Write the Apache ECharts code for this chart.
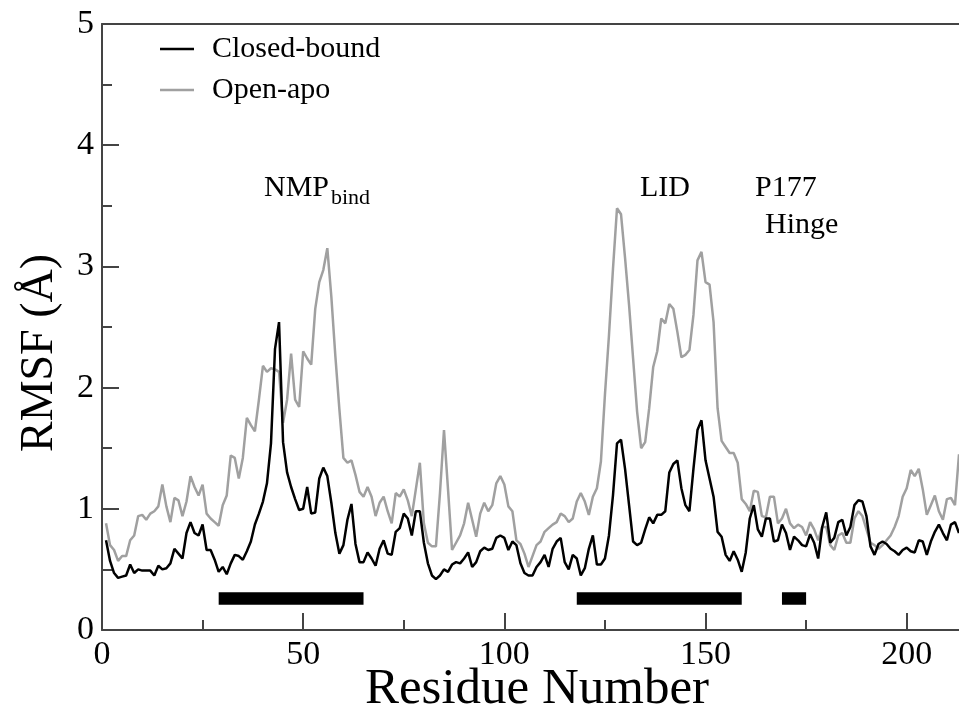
<!DOCTYPE html>
<html>
<head>
<meta charset="utf-8">
<script src="https://cdn.jsdelivr.net/npm/echarts@6/dist/echarts.min.js"></script>
<style>html,body{margin:0;padding:0;background:#fff;}#c{width:959px;height:712px;}</style>
</head>
<body>
<div id="c"></div>
<script>
// RMSF values (Å) per residue, starting at residue 1
const closedBound = [
0.74,0.57,0.47,0.43,0.44,0.45,0.54,0.47,0.50,0.49,
0.49,0.49,0.45,0.53,0.50,0.51,0.55,0.67,0.63,0.59,
0.80,0.89,0.80,0.78,0.87,0.66,0.66,0.58,0.48,0.52,
0.46,0.55,0.62,0.61,0.58,0.65,0.73,0.87,0.96,1.06,
1.21,1.54,2.32,2.54,1.55,1.30,1.18,1.08,0.99,1.00,
1.18,0.96,0.97,1.25,1.34,1.27,1.05,0.80,0.63,0.70,
0.91,1.04,0.71,0.56,0.56,0.64,0.59,0.53,0.67,0.74,
0.63,0.62,0.81,0.84,0.96,0.92,0.78,0.98,0.98,0.72,
0.55,0.45,0.42,0.45,0.50,0.48,0.54,0.56,0.55,0.59,
0.64,0.52,0.56,0.65,0.68,0.66,0.67,0.76,0.78,0.76,
0.66,0.73,0.70,0.55,0.47,0.45,0.45,0.52,0.56,0.62,
0.52,0.67,0.73,0.76,0.56,0.50,0.62,0.59,0.45,0.51,
0.67,0.78,0.54,0.54,0.59,0.78,1.11,1.54,1.57,1.33,
1.03,0.73,0.70,0.72,0.83,0.93,0.88,0.95,0.95,0.98,
1.30,1.37,1.40,1.17,1.03,0.98,1.33,1.65,1.73,1.40,
1.25,1.10,0.81,0.77,0.62,0.57,0.65,0.58,0.48,0.64,
0.92,1.03,0.83,0.77,0.92,0.92,0.73,0.74,0.87,0.80,
0.66,0.77,0.74,0.70,0.69,0.79,0.72,0.59,0.85,0.97,
0.72,0.76,0.89,0.91,0.78,0.85,1.03,1.07,1.06,0.94,
0.69,0.62,0.71,0.73,0.71,0.67,0.65,0.62,0.66,0.68,
0.65,0.64,0.74,0.73,0.62,0.73,0.81,0.87,0.80,0.74,
0.87,0.89,0.80
];
const openApo = [
0.88,0.70,0.66,0.57,0.61,0.61,0.74,0.78,0.94,0.95,
0.91,0.96,0.98,1.02,1.20,1.02,0.89,1.09,1.07,0.94,
1.06,1.27,1.18,1.11,1.20,0.96,0.92,0.89,0.86,1.03,
1.11,1.44,1.42,1.25,1.42,1.75,1.69,1.64,1.90,2.18,
2.13,2.16,2.15,2.13,1.71,1.90,2.28,1.90,1.84,2.30,
2.24,2.19,2.65,2.87,2.97,3.15,2.75,2.26,1.82,1.42,
1.38,1.40,1.28,1.14,1.10,1.18,1.10,0.94,1.05,1.10,
0.98,0.88,1.13,1.10,1.16,1.07,0.94,1.16,1.38,0.88,
0.72,0.69,0.69,1.13,1.65,1.16,0.66,0.72,0.78,0.88,
1.05,0.91,0.77,0.96,1.05,0.98,1.03,1.21,1.27,1.20,
1.02,0.98,0.74,0.71,0.63,0.52,0.61,0.70,0.73,0.81,
0.84,0.87,0.89,0.96,0.94,0.89,0.92,1.06,1.13,1.06,
0.95,1.10,1.17,1.39,1.94,2.43,2.98,3.48,3.43,3.07,
2.68,2.24,1.80,1.50,1.55,1.83,2.17,2.30,2.57,2.53,
2.69,2.65,2.46,2.25,2.27,2.31,2.60,3.05,3.12,2.87,
2.85,2.54,1.83,1.56,1.51,1.46,1.46,1.38,1.08,1.04,
0.98,1.15,1.14,0.94,0.93,1.10,1.10,0.88,0.92,1.00,
0.88,0.84,0.87,0.85,0.78,0.89,0.83,0.74,0.85,0.85,
0.70,0.66,0.78,0.80,0.72,0.72,0.92,0.98,0.94,0.83,
0.72,0.70,0.67,0.70,0.74,0.78,0.85,0.94,1.10,1.17,
1.32,1.27,1.33,1.16,0.95,1.03,1.11,0.98,0.91,1.08,
1.09,1.03,1.45
];
// domain bars: [startResidue, endResidue]
const domainSegments = [[29,65],[118,159],[169,175]];
const domainLevel = 0.26;
const xMajorTicks = [0,50,100,150,200];
const xMinorTicks = [25,75,125,175];
const yTicks = [0,1,2,3,4,5];

const FONT = 'Liberation Serif';
const toPairs = arr => arr.map((v, i) => [i + 1, v]);
const X_MAX = 213;

const chart = echarts.init(document.getElementById('c'), null, {renderer: 'canvas'});
const axisColor = '#444';

const segSeries = domainSegments.map((s, k) => ({
  name: 'domain' + k,
  type: 'line',
  data: [[s[0], domainLevel], [s[1], domainLevel]],
  symbol: 'none',
  silent: true,
  lineStyle: {color: '#000', width: 12.5, cap: 'butt'},
  z: 4
}));

chart.setOption({
  animation: false,
  backgroundColor: '#fff',
  grid: {left: 102, top: 24, bottom: 82, right: 0, containLabel: false, outerBoundsMode: 'none'},
  legend: {
    data: [{name: 'Closed-bound', icon: 'rect'}, {name: 'Open-apo', icon: 'rect'}],
    orient: 'vertical',
    left: 155, top: 29,
    itemWidth: 34, itemHeight: 2.5, itemGap: 11,
    textStyle: {fontFamily: FONT, fontSize: 30, color: '#000', lineHeight: 30, padding: [0,0,0,13]},
    selectedMode: false
  },
  xAxis: [{
    type: 'value', min: 0, max: X_MAX, position: 'bottom',
    axisLine: {show: true, onZero: false, lineStyle: {color: axisColor, width: 2}},
    axisTick: {show: true, inside: true, length: 17, customValues: xMajorTicks, lineStyle: {color: axisColor, width: 2}},
    axisLabel: {fontFamily: FONT, fontSize: 34, color: '#000', margin: 8, customValues: xMajorTicks},
    splitLine: {show: false}
  }, {
    type: 'value', min: 0, max: X_MAX, position: 'bottom',
    axisLine: {show: false, onZero: false},
    axisTick: {show: true, inside: true, length: 10, customValues: xMinorTicks, lineStyle: {color: axisColor, width: 2}},
    axisLabel: {show: false}, splitLine: {show: false}
  }, {
    type: 'value', min: 0, max: X_MAX, position: 'top',
    axisLine: {show: true, onZero: false, lineStyle: {color: axisColor, width: 2}},
    axisTick: {show: false}, axisLabel: {show: false}, splitLine: {show: false}
  }],
  yAxis: {
    type: 'value', min: 0, max: 5, interval: 1,
    axisLine: {show: true, onZero: false, lineStyle: {color: axisColor, width: 2}},
    axisTick: {show: true, inside: true, length: 17, lineStyle: {color: axisColor, width: 2}},
    minorTick: {show: true, splitNumber: 2, length: 10, lineStyle: {color: axisColor, width: 2}},
    axisLabel: {fontFamily: FONT, fontSize: 34, color: '#000', margin: 8,
      formatter: v => (yTicks.indexOf(v) >= 0 ? String(v) : '')},
    splitLine: {show: false}
  },
  series: [{
    name: 'Open-apo', type: 'line', data: toPairs(openApo),
    symbol: 'none', showSymbol: false, clip: true,
    lineStyle: {color: '#a0a0a0', width: 2.5}, itemStyle: {color: '#a0a0a0'}, z: 2
  }, {
    name: 'Closed-bound', type: 'line', data: toPairs(closedBound),
    symbol: 'none', showSymbol: false, clip: true,
    lineStyle: {color: '#000', width: 2.5}, itemStyle: {color: '#000'}, z: 3
  }].concat(segSeries),
  graphic: [
    {type: 'text', x: 40, y: 353, rotation: Math.PI / 2,
      style: {text: 'RMSF (Å)', fontFamily: FONT, fontSize: 46, fill: '#000', align: 'center', verticalAlign: 'middle'}},
    {type: 'text', x: 537, y: 690,
      style: {text: 'Residue Number', fontFamily: FONT, fontSize: 51, fill: '#000', align: 'center', verticalAlign: 'middle'}},
    {type: 'text', x: 264, y: 188,
      style: {text: 'NMP', fontFamily: FONT, fontSize: 30, fill: '#000', align: 'left', verticalAlign: 'middle'}},
    {type: 'text', x: 331, y: 198,
      style: {text: 'bind', fontFamily: FONT, fontSize: 22, fill: '#000', align: 'left', verticalAlign: 'middle'}},
    {type: 'text', x: 640, y: 188,
      style: {text: 'LID', fontFamily: FONT, fontSize: 30, fill: '#000', align: 'left', verticalAlign: 'middle'}},
    {type: 'text', x: 755, y: 188,
      style: {text: 'P177', fontFamily: FONT, fontSize: 30, fill: '#000', align: 'left', verticalAlign: 'middle'}},
    {type: 'text', x: 765, y: 225,
      style: {text: 'Hinge', fontFamily: FONT, fontSize: 30, fill: '#000', align: 'left', verticalAlign: 'middle'}}
  ]
});
</script>
</body>
</html>
